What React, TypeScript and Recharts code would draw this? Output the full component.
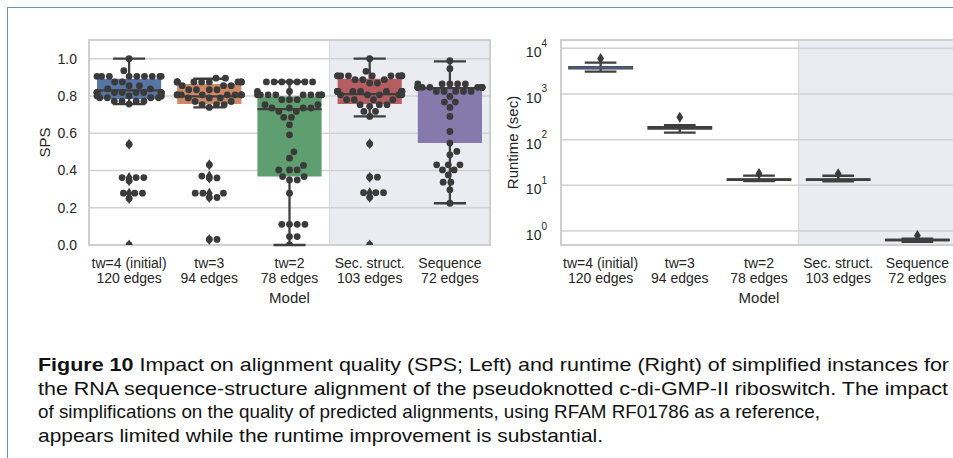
import React from 'react';
import {
  ComposedChart,
  XAxis,
  YAxis,
  CartesianGrid,
  Scatter,
  ReferenceArea,
  ReferenceLine,
  Label,
} from 'recharts';

// categories (two-line tick labels)
const catLine1 = ['tw=4 (initial)', 'tw=3', 'tw=2', 'Sec. struct.', 'Sequence'];
const catLine2 = ['120 edges', '94 edges', '78 edges', '103 edges', '72 edges'];
const catTicks = [0, 1, 2, 3, 4];

const palette = ['#5875a4', '#cc8963', '#5f9e6e', '#b55d60', '#857aab'];

// SPS box statistics (left panel)
const spsLow = [0.756, 0.738, 0.0, 0.69, 0.224];
const spsQ1 = [0.783, 0.756, 0.367, 0.756, 0.547];
const spsMed = [0.83, 0.797, 0.729, 0.81, 0.842];
const spsQ3 = [0.892, 0.864, 0.797, 0.892, 0.846];
const spsHigh = [1.0, 0.892, 0.876, 1.0, 0.985];
const spsFliers = [
  [0.54, 0.362, 0.345, 0.278, 0.25, 0.0],
  [0.43, 0.37, 0.36, 0.278, 0.255, 0.03],
  [],
  [0.543, 0.364, 0.281, 0.256, 0.0],
  [],
];
const spsTicks = [0, 0.2, 0.4, 0.6, 0.8, 1.0];

// SPS of each instance (swarm points)
const ptsTw4 = [
  1.0, 0.935,
  0.905, 0.905, 0.905, 0.905, 0.905, 0.905, 0.905, 0.905, 0.905,
  0.875, 0.875, 0.855, 0.855, 0.838, 0.838,
  0.818, 0.818, 0.818, 0.818, 0.818, 0.818, 0.818, 0.818, 0.818, 0.818,
  0.8, 0.8, 0.8, 0.8, 0.79, 0.79, 0.79, 0.79,
  0.772, 0.772, 0.772, 0.772, 0.756,
  0.54, 0.362, 0.362, 0.362, 0.345, 0.278, 0.278, 0.278, 0.25, 0.0,
];
const ptsTw3 = [
  0.895, 0.895,
  0.875, 0.875, 0.875, 0.875, 0.875, 0.875, 0.875, 0.875, 0.875,
  0.855, 0.855, 0.855, 0.833, 0.833, 0.833, 0.833,
  0.806, 0.806, 0.806, 0.806, 0.806, 0.806, 0.806, 0.806, 0.806, 0.806,
  0.789, 0.789, 0.789, 0.77, 0.77, 0.753, 0.753, 0.753, 0.738,
  0.43, 0.37, 0.36, 0.36, 0.278, 0.278, 0.278, 0.255, 0.255, 0.03, 0.03,
];
const ptsTw2 = [
  0.875, 0.875, 0.875, 0.875, 0.875, 0.875, 0.875,
  0.824, 0.824,
  0.806, 0.806, 0.806, 0.806, 0.806, 0.806, 0.806, 0.806, 0.806,
  0.78, 0.78, 0.78, 0.753, 0.753, 0.735, 0.735, 0.735, 0.735,
  0.717, 0.717, 0.685, 0.685, 0.645, 0.591, 0.5, 0.466, 0.427,
  0.403, 0.403, 0.403, 0.367, 0.367, 0.349, 0.349, 0.278,
  0.111, 0.111, 0.111, 0.111, 0.045, 0.045, 0.0,
];
const ptsSec = [
  1.0, 0.932,
  0.908, 0.908, 0.908, 0.908, 0.908, 0.908, 0.908, 0.908, 0.908, 0.908,
  0.887, 0.887, 0.887, 0.869, 0.869,
  0.824, 0.824, 0.824, 0.824, 0.824, 0.824, 0.824, 0.824, 0.824, 0.824, 0.824,
  0.806, 0.806, 0.806, 0.806, 0.806, 0.78, 0.78, 0.78, 0.78,
  0.753, 0.753, 0.753, 0.744, 0.717, 0.717, 0.69,
  0.543, 0.364, 0.364, 0.281, 0.281, 0.281, 0.256, 0.0,
];
const ptsSeq = [
  0.989, 0.946,
  0.864, 0.864, 0.864, 0.864, 0.864,
  0.846, 0.846, 0.846, 0.846, 0.846, 0.846, 0.846, 0.846, 0.846, 0.846,
  0.824, 0.824, 0.824, 0.824, 0.824,
  0.797, 0.767, 0.767, 0.738, 0.69, 0.609, 0.547, 0.502, 0.484,
  0.43, 0.43, 0.43, 0.403, 0.403, 0.376, 0.337, 0.337, 0.296, 0.224,
];
const spsPoints = [ptsTw4, ptsTw3, ptsTw2, ptsSec, ptsSeq];

// runtime box statistics in seconds (right panel)
const rtLow = [3080, 142, 12.4, 12.3, 0.58];
const rtQ1 = [3550, 172, 12.9, 12.9, 0.62];
const rtMed = [3760, 183, 13.4, 13.3, 0.635];
const rtQ3 = [3950, 192, 13.8, 13.7, 0.65];
const rtHigh = [4850, 209, 16.3, 16.2, 0.68];
const rtFliers = [[6000], [308], [18.2], [18], [0.8]];
const rtTicks = [1, 10, 100, 1000, 10000];
const rtTickExp = ['0', '1', '2', '3', '4'];

const captionHead = 'Figure 10';
const captionLines = [
  ' Impact on alignment quality (SPS; Left) and runtime (Right) of simplified instances for',
  'the RNA sequence-structure alignment of the pseudoknotted c-di-GMP-II riboswitch. The impact',
  'of simplifications on the quality of predicted alignments, using RFAM RF01786 as a reference,',
  'appears limited while the runtime improvement is substantial.',
];
const captionWidths = [911, 910, 782, 565];

// layout
const CH_H = 320;
const L_W = 500;
const L_MARGIN = { top: 40, right: 10, bottom: 15, left: 0 };
const L_YW = 89;
const X_H = 60;
const R_W = 470;
const R_MARGIN = { top: 40, right: 13, bottom: 15, left: 0 };
const R_YW = 61;
const PLOT_H = CH_H - L_MARGIN.top - L_MARGIN.bottom - X_H;
const PX_X = (L_W - L_MARGIN.left - L_MARGIN.right - L_YW) / 5;
const PX_Y = PLOT_H / 1.1;
const DOT_R = 3.4;
const DOT_D = 7.7;

const INK = '#262626';
const LINE = '#3f3f3f';
const DOT = '#3a3a3a';
const GRID = '#d2d2d2';
const FONT = '"Liberation Sans", Arial, sans-serif';

// beeswarm: place points (in px) as close to the centre as possible
function swarmOffsets(vals: number[], limit: number) {
  const order = vals.map((_, i) => i).sort((a, b) => vals[a] - vals[b]);
  const placed: { x: number; y: number }[] = [];
  const out: number[] = vals.map(() => 0);
  for (const i of order) {
    const y = vals[i] * PX_Y;
    const near = placed.filter((p) => Math.abs(p.y - y) < DOT_D);
    const cands = [0];
    near.forEach((p) => {
      const dx = Math.sqrt(DOT_D * DOT_D - (p.y - y) * (p.y - y));
      cands.push(p.x + dx, p.x - dx);
    });
    cands.sort((a, b) => Math.abs(a) - Math.abs(b));
    const x =
      cands.find((c) =>
        near.every((p) => (p.x - c) ** 2 + (p.y - y) ** 2 >= DOT_D * DOT_D - 0.01)
      ) ?? 0;
    placed.push({ x, y });
    out[i] = Math.max(-limit, Math.min(limit, x));
  }
  return out;
}

const dotData = spsPoints.flatMap((vals, i) => {
  const offs = swarmOffsets(vals, PX_X * 0.4);
  return vals.map((v, j) => ({ x: i + offs[j] / PX_X, y: v }));
});
const spsFlierData = spsFliers.flatMap((vals, i) => vals.map((v) => ({ x: i, y: v })));
const rtFlierData = rtFliers.flatMap((vals, i) => vals.map((v) => ({ x: i, y: v })));

const Dot = (p: any) => <circle cx={p.cx} cy={p.cy} r={DOT_R} fill={DOT} />;
const Diamond = (p: any) => (
  <path
    d={`M${p.cx},${p.cy - 5.5}L${p.cx + 3.4},${p.cy}L${p.cx},${p.cy + 5.5}L${p.cx - 3.4},${p.cy}Z`}
    fill={DOT}
  />
);

const CatTick = (p: any) => {
  const i = p.payload.value;
  return (
    <text x={p.x} y={p.y} textAnchor="middle" fill={INK} fontSize={14}>
      <tspan x={p.x} dy={15}>{catLine1[i]}</tspan>
      <tspan x={p.x} dy={15}>{catLine2[i]}</tspan>
    </text>
  );
};

const PowTick = (p: any) => {
  const k = rtTicks.indexOf(p.payload.value);
  return (
    <text x={p.x} y={p.y + 9} textAnchor="end" fill={INK} fontSize={14}>
      <tspan>10</tspan>
      <tspan dy={-10.5} fontSize={10}>{rtTickExp[k]}</tspan>
    </text>
  );
};

const yTitle = (text: string, dx: number) => (p: any) => {
  const vb = p.viewBox;
  const cx = vb.x + dx;
  const cy = vb.y + vb.height / 2;
  return (
    <text x={cx} y={cy} transform={`rotate(-90 ${cx} ${cy})`} textAnchor="middle"
      dominantBaseline="central" fill={INK} fontSize={15}>
      {text}
    </text>
  );
};

const xTitle = (p: any) => {
  const vb = p.viewBox;
  return (
    <text x={vb.x + vb.width / 2} y={vb.y + 58} textAnchor="middle" fill={INK} fontSize={15}>
      Model
    </text>
  );
};

function boxParts(
  lo: number[], q1: number[], med: number[], q3: number[], hi: number[],
  boxStroke: string, medColor: (i: number) => string
) {
  return lo.flatMap((_, i) => [
    <ReferenceArea key={`bx${i}`} x1={i - 0.4} x2={i + 0.4} y1={q1[i]} y2={q3[i]}
      fill={palette[i]} fillOpacity={1} stroke={boxStroke} strokeWidth={1.5} />,
    <ReferenceLine key={`wl${i}`} segment={[{ x: i, y: lo[i] }, { x: i, y: q1[i] }]}
      stroke={LINE} strokeWidth={2.3} />,
    <ReferenceLine key={`wh${i}`} segment={[{ x: i, y: q3[i] }, { x: i, y: hi[i] }]}
      stroke={LINE} strokeWidth={2.3} />,
    <ReferenceLine key={`cl${i}`} segment={[{ x: i - 0.2, y: lo[i] }, { x: i + 0.2, y: lo[i] }]}
      stroke={LINE} strokeWidth={2.3} />,
    <ReferenceLine key={`ch${i}`} segment={[{ x: i - 0.2, y: hi[i] }, { x: i + 0.2, y: hi[i] }]}
      stroke={LINE} strokeWidth={2.3} />,
    <ReferenceLine key={`md${i}`} segment={[{ x: i - 0.4, y: med[i] }, { x: i + 0.4, y: med[i] }]}
      stroke={medColor(i)} strokeWidth={2.3} />,
  ]);
}

function SpsChart() {
  return (
    <ComposedChart width={L_W} height={CH_H} margin={L_MARGIN}>
      <ReferenceArea x1={2.5} x2={4.5} y1={0} y2={1.1} fill="#ccccdf" fillOpacity={0.4}
        stroke="#d6d6e0" strokeWidth={1} />
      <CartesianGrid vertical={false} stroke={GRID} strokeWidth={1.5} />
      <XAxis type="number" dataKey="x" domain={[-0.5, 4.5]} ticks={catTicks}
        axisLine={false} tickLine={false} tick={<CatTick />} height={X_H} allowDataOverflow>
        <Label content={xTitle} />
      </XAxis>
      <YAxis type="number" dataKey="y" domain={[0, 1.1]} ticks={spsTicks} width={L_YW}
        axisLine={false} tickLine={false} tickMargin={6} allowDataOverflow
        tick={{ fill: INK, fontSize: 14 }} tickFormatter={(v: number) => v.toFixed(1)}>
        <Label content={yTitle('SPS', 44)} />
      </YAxis>
      {boxParts(spsLow, spsQ1, spsMed, spsQ3, spsHigh, 'none', () => LINE)}
      <Scatter data={dotData} dataKey="y" shape={Dot} isAnimationActive={false} />
      <Scatter data={spsFlierData} dataKey="y" shape={Diamond} isAnimationActive={false} />
      <ReferenceArea x1={-0.5} x2={4.5} y1={0} y2={1.1} fill="none" fillOpacity={0}
        stroke="#cfcfcf" strokeWidth={2} />
    </ComposedChart>
  );
}

const RT_DOMAIN: [number, number] = [0.494, 15200];

function RuntimeChart() {
  return (
    <ComposedChart width={R_W} height={CH_H} margin={R_MARGIN}>
      <ReferenceArea x1={2.5} x2={4.5} y1={RT_DOMAIN[0]} y2={RT_DOMAIN[1]} fill="#ccccdf"
        fillOpacity={0.4} stroke="#d6d6e0" strokeWidth={1} />
      <CartesianGrid vertical={false} stroke={GRID} strokeWidth={1.5} />
      <XAxis type="number" dataKey="x" domain={[-0.5, 4.5]} ticks={catTicks}
        axisLine={false} tickLine={false} tick={<CatTick />} height={X_H} allowDataOverflow>
        <Label content={xTitle} />
      </XAxis>
      <YAxis type="number" dataKey="y" scale="log" domain={RT_DOMAIN} ticks={rtTicks}
        width={R_YW} axisLine={false} tickLine={false} tickMargin={8} allowDataOverflow
        tick={<PowTick />}>
        <Label content={yTitle('Runtime (sec)', 12)} />
      </YAxis>
      {boxParts(rtLow, rtQ1, rtMed, rtQ3, rtHigh, LINE, (i) => (i === 0 ? '#4a5f86' : LINE))}
      <Scatter data={rtFlierData} dataKey="y" shape={Diamond} isAnimationActive={false} />
      <ReferenceArea x1={-0.5} x2={4.5} y1={RT_DOMAIN[0]} y2={RT_DOMAIN[1]} fill="none"
        fillOpacity={0} stroke="#cfcfcf" strokeWidth={2} />
    </ComposedChart>
  );
}

export default function App() {
  return (
    <div
      style={{
        position: 'absolute', left: 0, top: 0, width: 953, height: 458,
        overflow: 'hidden', background: '#fff', fontFamily: FONT,
      }}
    >
      <div style={{ position: 'absolute', left: 7, top: 7, right: -10, bottom: -10,
        borderTop: '1.5px solid #7190b4', borderLeft: '1.5px solid #7190b4' }} />
      <div style={{ position: 'absolute', left: 0, top: 0 }}>
        <SpsChart />
      </div>
      <div style={{ position: 'absolute', left: L_W, top: 0 }}>
        <RuntimeChart />
      </div>
      <svg width={953} height={458} style={{ position: 'absolute', left: 0, top: 0 }}>
        {captionLines.map((t, i) => (
          <text key={i} x={38} y={371 + i * 23.5} fontSize={18.5} fill="#111"
            textLength={captionWidths[i]} lengthAdjust="spacingAndGlyphs">
            {i === 0 && <tspan fontWeight="bold">{captionHead}</tspan>}
            <tspan>{t}</tspan>
          </text>
        ))}
      </svg>
    </div>
  );
}
